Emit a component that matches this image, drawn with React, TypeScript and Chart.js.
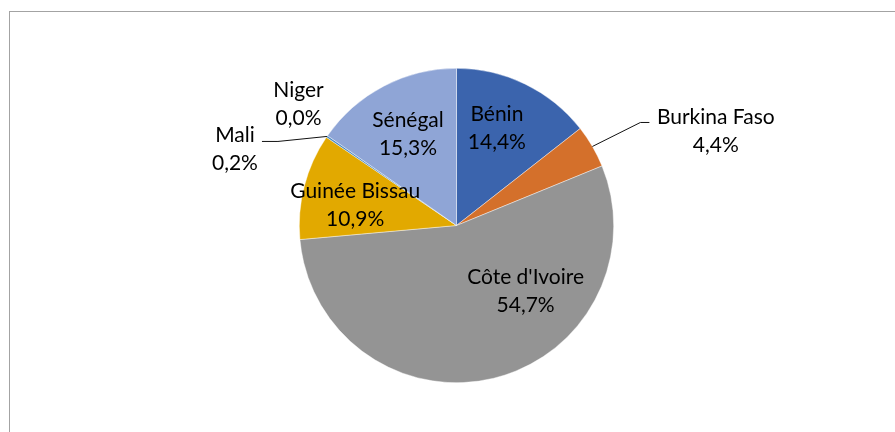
import React, { useEffect, useRef } from "react";
import { Chart, registerables } from "chart.js";

Chart.register(...registerables);

const countries = ["Bénin", "Burkina Faso", "Côte d'Ivoire", "Guinée Bissau", "Mali", "Niger", "Sénégal"];
const shares = [14.4, 4.4, 54.7, 10.9, 0.2, 0.0, 15.3];
const shareLabels = ["14,4%", "4,4%", "54,7%", "10,9%", "0,2%", "0,0%", "15,3%"];
const sliceColors = ["#3B64AD", "#D4702B", "#949494", "#E2A900", "#4C8AC0", "#5F9640", "#8FA5D6"];

type Placement =
  | { type: "in"; shift: number; rf: number }
  | { type: "out"; elbow?: [number, number]; end?: [number, number]; text: [number, number] };

const placements: Placement[] = [
  { type: "in", shift: -3.4, rf: 0.67 },
  { type: "out", elbow: [48, -24], end: [57, -24], text: [123.4, -14.8] },
  { type: "in", shift: -32.8, rf: 0.606 },
  { type: "in", shift: -3.3, rf: 0.657 },
  { type: "out", elbow: [-49, 5], end: [-65, 5], text: [-92, 13] },
  { type: "out", text: [-29, -31.6] },
  { type: "in", shift: -0.4, rf: 0.658 },
];

const FONT = "21px Lato, 'Noto Sans', sans-serif";
const LINE_H = 28;

const labelPlugin = {
  id: "pieLabels",
  beforeDraw(chart: any) {
    const ctx = chart.ctx;
    ctx.save();
    ctx.strokeStyle = "#a3a3a3";
    ctx.lineWidth = 1;
    ctx.strokeRect(9.5, 11.5, 2000, 2000);
    ctx.restore();
  },
  afterDatasetsDraw(chart: any) {
    const ctx = chart.ctx;
    const meta = chart.getDatasetMeta(0);
    ctx.save();
    ctx.font = FONT;
    ctx.fillStyle = "#000";
    ctx.textAlign = "center";
    ctx.textBaseline = "middle";
    meta.data.forEach((arc: any, i: number) => {
      const { x, y, startAngle, endAngle, outerRadius } = arc.getProps(
        ["x", "y", "startAngle", "endAngle", "outerRadius"],
        true
      );
      const mid = (startAngle + endAngle) / 2;
      const p = placements[i];
      let cx: number, cy: number;
      if (p.type === "in") {
        const a = mid + (p.shift * Math.PI) / 180;
        cx = x + Math.cos(a) * outerRadius * p.rf;
        cy = y + Math.sin(a) * outerRadius * p.rf;
      } else {
        const ex = x + Math.cos(mid) * outerRadius;
        const ey = y + Math.sin(mid) * outerRadius;
        if (p.elbow && p.end) {
          ctx.beginPath();
          ctx.strokeStyle = "#111";
          ctx.lineWidth = 1;
          ctx.moveTo(ex, ey);
          ctx.lineTo(ex + p.elbow[0], ey + p.elbow[1]);
          ctx.lineTo(ex + p.end[0], ey + p.end[1]);
          ctx.stroke();
        }
        cx = ex + p.text[0];
        cy = ey + p.text[1];
      }
      ctx.fillText(countries[i], cx, cy - LINE_H / 2);
      ctx.fillText(shareLabels[i], cx, cy + LINE_H / 2);
    });
    ctx.restore();
  },
};

export default function App() {
  const ref = useRef<HTMLCanvasElement | null>(null);
  useEffect(() => {
    document.body.style.margin = "0";
    if (!ref.current) return;
    const chart = new Chart(ref.current, {
      type: "pie",
      data: {
        labels: countries,
        datasets: [
          {
            data: shares,
            backgroundColor: sliceColors,
            borderColor: "rgba(255,255,255,0.7)",
            borderWidth: 0.6,
          },
        ],
      },
      options: {
        animation: false,
        responsive: false,
        layout: { padding: { top: 68, bottom: 49, left: 18, right: 0 } },
        plugins: { legend: { display: false }, tooltip: { enabled: false } },
      },
      plugins: [labelPlugin],
    });
    return () => chart.destroy();
  }, []);
  return (
    <div style={{ width: 895, height: 432, background: "#fff" }}>
      <canvas ref={ref} width={895} height={432} style={{ display: "block" }} />
    </div>
  );
}
